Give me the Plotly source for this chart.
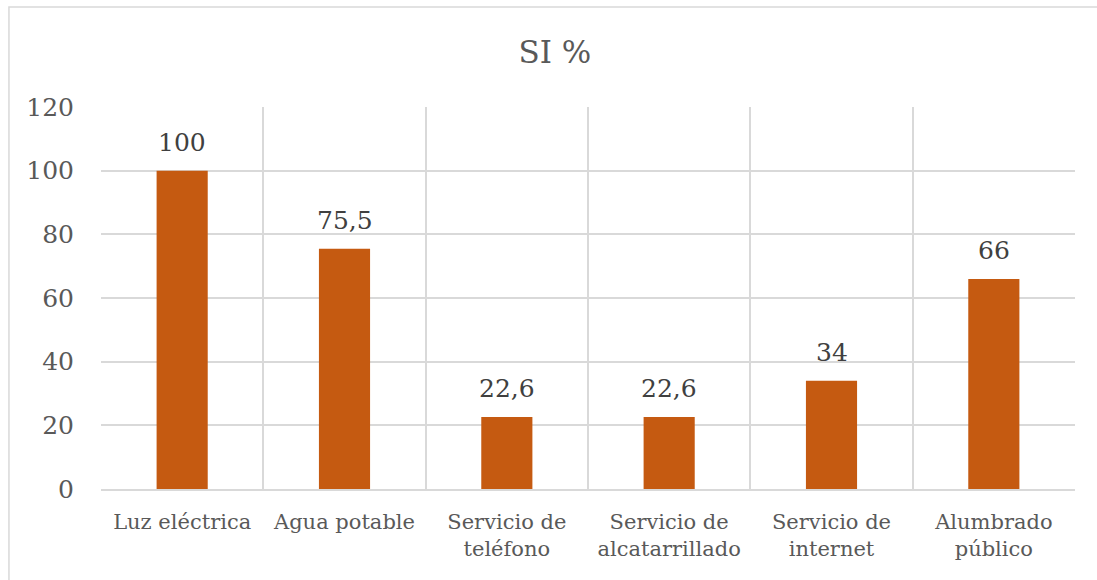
import plotly.graph_objects as go

# Service coverage, share answering "SI"
categories = [
    "Luz eléctrica",
    "Agua potable",
    "Servicio de<br>teléfono",
    "Servicio de<br>alcatarrillado",
    "Servicio de<br>internet",
    "Alumbrado<br>público",
]
values = [100, 75.5, 22.6, 22.6, 34, 66]
value_labels = ["100", "75,5", "22,6", "22,6", "34", "66"]
y_ticks = [0, 20, 40, 60, 80, 100, 120]

BAR_COLOR = "#C55A11"
GRID = "#D9D9D9"
FONT = "DejaVu Serif"

fig = go.Figure(
    go.Bar(
        x=categories,
        y=values,
        marker=dict(color=BAR_COLOR, line=dict(width=0)),
    )
)

# value labels above each bar
for cat, val, lab in zip(categories, values, value_labels):
    fig.add_annotation(
        x=cat, y=val, text=lab, showarrow=False,
        yanchor="bottom", yshift=12,
        font=dict(family=FONT, size=25, color="#404040"),
    )

# outer frame of the chart area
fig.add_shape(
    type="rect", xref="paper", yref="paper",
    x0=-0.0945, x1=1.03, y0=-0.26, y1=1.2618,
    line=dict(color=GRID, width=1.5), fillcolor="rgba(0,0,0,0)", layer="below",
)

fig.update_layout(
    width=1097, height=580,
    margin=dict(l=101, r=22, t=107, b=91),
    paper_bgcolor="white", plot_bgcolor="white",
    bargap=0.685,
    showlegend=False,
    title=dict(
        text="SI %", xref="paper", x=0.466, xanchor="center", y=0.91, yanchor="middle",
        font=dict(family=FONT, size=31, color="#595959"),
    ),
    font=dict(family=FONT, color="#595959"),
)

fig.update_xaxes(
    tickson="boundaries", showgrid=True, gridcolor=GRID, gridwidth=1.5,
    showline=True, linecolor=GRID, linewidth=1.5, mirror=False,
    ticks="", ticklabelstandoff=13,
    tickfont=dict(family=FONT, size=21, color="#595959"),
)
fig.update_yaxes(
    range=[0, 120], tickvals=y_ticks, showgrid=True, gridcolor=GRID, gridwidth=1.5,
    zeroline=False, showline=False, ticks="", ticklabelstandoff=26,
    tickfont=dict(family=FONT, size=25, color="#595959"),
)

fig.write_html("out.html")
